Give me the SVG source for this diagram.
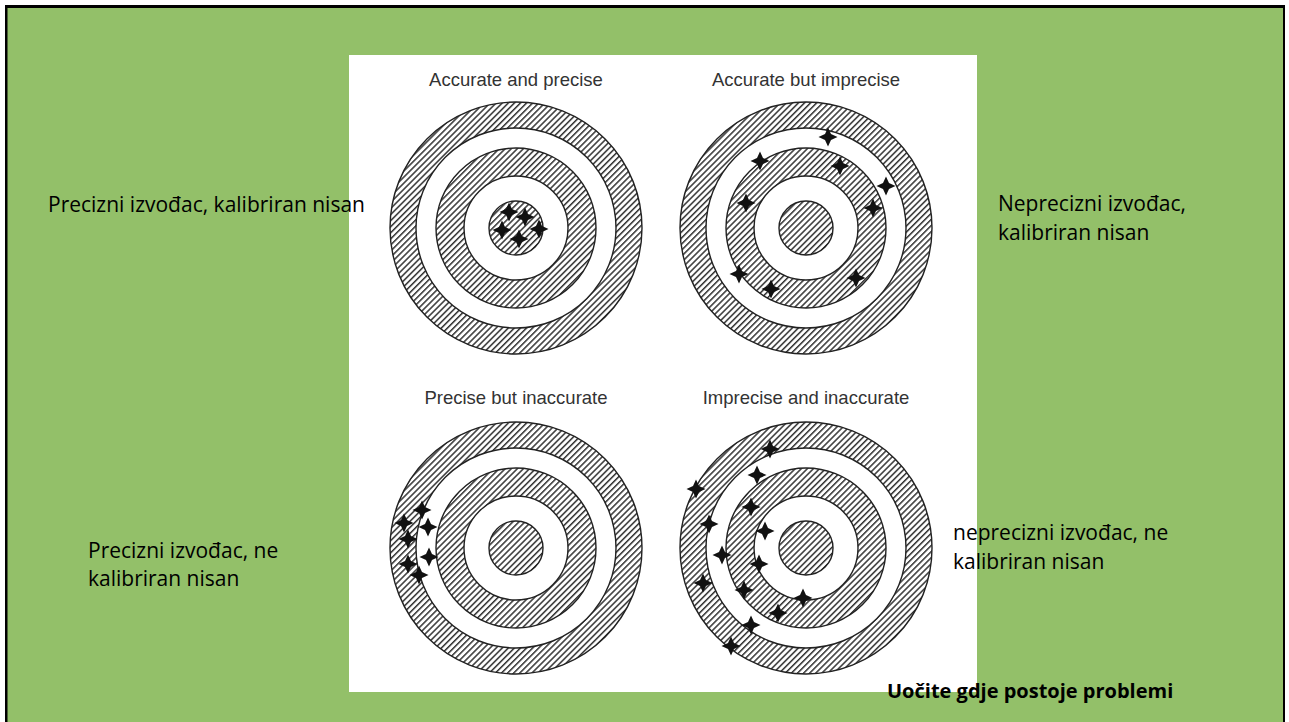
<svg xmlns="http://www.w3.org/2000/svg" width="1289" height="722" viewBox="0 0 1289 722">
<defs>
<pattern id="hatch" patternUnits="userSpaceOnUse" width="4.3" height="10" patternTransform="rotate(45)">
<rect x="0" y="0" width="1.5" height="10" fill="#333"/>
</pattern>
<g id="target">
<circle r="126" fill="url(#hatch)" stroke="#222" stroke-width="1.4"/>
<circle r="100" fill="#fff" stroke="#222" stroke-width="1.4"/>
<circle r="80" fill="url(#hatch)" stroke="#222" stroke-width="1.4"/>
<circle r="52" fill="#fff" stroke="#222" stroke-width="1.4"/>
<circle r="27" fill="url(#hatch)" stroke="#222" stroke-width="1.4"/>
</g>
<polygon id="star" points="0,-9.5 3,-3 9.5,0 3,3 0,9.5 -3,3 -9.5,0 -3,-3" fill="#111"/>
</defs>
<style>
.title{font-family:"Liberation Sans",Arial,sans-serif;font-size:18.5px;fill:#333;text-anchor:middle}
.note{font-family:"Open Sans","Liberation Sans",sans-serif;font-size:21px;fill:#000}
.bold{font-family:"Open Sans","Liberation Sans",sans-serif;font-size:20px;font-weight:bold;fill:#000}
</style>
<rect width="1289" height="722" fill="#fff"/>
<rect x="5" y="5" width="1280" height="730" fill="#000"/>
<rect x="7.5" y="8" width="1275.5" height="720" fill="#93c069"/>
<rect x="349" y="55" width="628" height="637" fill="#fff"/>

<g id="target-tl">
<text class="title" x="516" y="86">Accurate and precise</text>
<use href="#target" x="516" y="228"/>
<use href="#star" x="509" y="212"/><use href="#star" x="525" y="217"/><use href="#star" x="502" y="230"/><use href="#star" x="539" y="229"/><use href="#star" x="519" y="239"/>
</g>
<g id="target-tr">
<text class="title" x="806" y="86">Accurate but imprecise</text>
<use href="#target" x="806" y="228"/>
<use href="#star" x="828" y="137"/><use href="#star" x="760" y="161"/><use href="#star" x="840" y="166"/><use href="#star" x="886" y="186"/><use href="#star" x="746" y="203"/><use href="#star" x="873" y="208"/><use href="#star" x="739" y="274"/><use href="#star" x="856" y="278"/><use href="#star" x="771" y="289"/>
</g>
<g id="target-bl">
<text class="title" x="516" y="404">Precise but inaccurate</text>
<use href="#target" x="516" y="548"/>
<use href="#star" x="422" y="510"/><use href="#star" x="404" y="523"/><use href="#star" x="428" y="527"/><use href="#star" x="408" y="539"/><use href="#star" x="429" y="557"/><use href="#star" x="408" y="564"/><use href="#star" x="419" y="575"/>
</g>
<g id="target-br">
<text class="title" x="806" y="404">Imprecise and inaccurate</text>
<use href="#target" x="806" y="548"/>
<use href="#star" x="770" y="449"/><use href="#star" x="757" y="475"/><use href="#star" x="696" y="489"/><use href="#star" x="751" y="507"/><use href="#star" x="709" y="524"/><use href="#star" x="765" y="531"/><use href="#star" x="722" y="555"/><use href="#star" x="759" y="564"/><use href="#star" x="703" y="583"/><use href="#star" x="744" y="590"/><use href="#star" x="803" y="598"/><use href="#star" x="778" y="613"/><use href="#star" x="751" y="625"/><use href="#star" x="731" y="646"/>
</g>

<g id="label-tl"><text class="note" x="48" y="212">Precizni izvođac, kalibriran nisan</text></g>
<g id="label-tr"><text class="note" x="998" y="211">Neprecizni izvođac,</text><text class="note" x="998" y="240">kalibriran nisan</text></g>
<g id="label-bl"><text class="note" x="88" y="558">Precizni izvođac, ne</text><text class="note" x="88" y="586">kalibriran nisan</text></g>
<g id="label-br"><text class="note" x="953" y="540">neprecizni izvođac, ne</text><text class="note" x="953" y="569">kalibriran nisan</text></g>
<g id="label-bottom"><text class="bold" x="887" y="698">Uočite gdje postoje problemi</text></g>
<g id="connectors"/>
</svg>
